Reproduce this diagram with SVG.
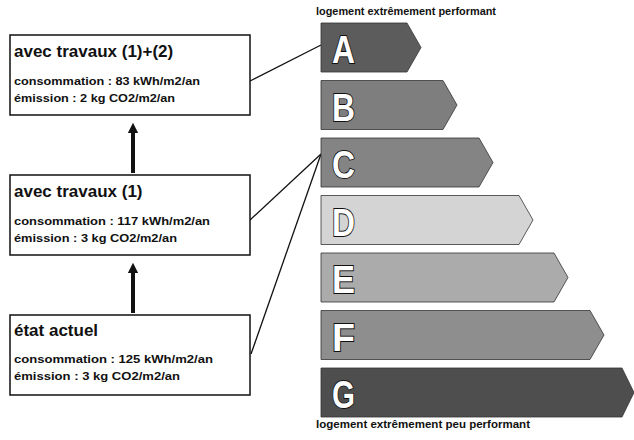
<svg xmlns="http://www.w3.org/2000/svg" width="634" height="440" viewBox="0 0 634 440">
<style>
.box{fill:#fff;stroke:#111;stroke-width:1.5}
.title{font-family:"Liberation Sans",Arial,sans-serif;font-weight:bold;font-size:17px;fill:#111}
.sub{font-family:"Liberation Sans",Arial,sans-serif;font-weight:bold;font-size:11px;fill:#111}
.cap{font-family:"Liberation Sans",Arial,sans-serif;font-weight:bold;font-size:10px;fill:#111}
.letter{font-family:"Liberation Sans",Arial,sans-serif;font-weight:bold;font-size:38px;fill:#fff;stroke:#111;stroke-width:1.8;paint-order:stroke}
.bar{stroke:#333;stroke-width:0.8}
.conn{stroke:#111;stroke-width:1.3;fill:none}
.up{stroke:#111;stroke-width:4;fill:none}
</style>
<defs>
<marker id="head" viewBox="0 0 10 10" refX="5" refY="5" markerWidth="2.6" markerHeight="3" orient="auto">
<path d="M0,0 L10,5 L0,10 z" fill="#111"/>
</marker>
</defs>

<g id="connectors">
<line class="conn" x1="250" y1="81" x2="321" y2="45"/>
<line class="conn" x1="250" y1="220" x2="321" y2="154"/>
<line class="conn" x1="251" y1="354" x2="321" y2="154"/>
<line class="up" x1="133" y1="173" x2="133" y2="128" marker-end="url(#head)"/>
<line class="up" x1="133" y1="313" x2="133" y2="268" marker-end="url(#head)"/>
</g>

<g id="box-travaux-1-2">
<rect class="box" x="10" y="35" width="240" height="80"/>
<text class="title" x="14" y="57">avec travaux (1)+(2)</text>
<text class="sub" x="14" y="85" textLength="186" lengthAdjust="spacingAndGlyphs">consommation : 83 kWh/m2/an</text>
<text class="sub" x="14" y="102" textLength="161" lengthAdjust="spacingAndGlyphs">émission : 2 kg CO2/m2/an</text>
</g>

<g id="box-travaux-1">
<rect class="box" x="10" y="175" width="240" height="80"/>
<text class="title" x="14" y="197">avec travaux (1)</text>
<text class="sub" x="14" y="225" textLength="196" lengthAdjust="spacingAndGlyphs">consommation : 117 kWh/m2/an</text>
<text class="sub" x="14" y="242" textLength="163" lengthAdjust="spacingAndGlyphs">émission : 3 kg CO2/m2/an</text>
</g>

<g id="box-etat-actuel">
<rect class="box" x="10" y="315" width="240" height="80"/>
<text class="title" x="14" y="336">état actuel</text>
<text class="sub" x="14" y="363" textLength="199" lengthAdjust="spacingAndGlyphs">consommation : 125 kWh/m2/an</text>
<text class="sub" x="14" y="380" textLength="166" lengthAdjust="spacingAndGlyphs">émission : 3 kg CO2/m2/an</text>
</g>

<g id="label-top">
<text class="cap" x="316" y="15" textLength="180" lengthAdjust="spacingAndGlyphs">logement extrêmement performant</text>
</g>

<g id="bar-A">
<path class="bar" fill="#5c5c5c" d="M321,23 H407 L421,47.5 L407,72 H321 Z"/>
<text class="letter" x="332" y="63" textLength="23" lengthAdjust="spacingAndGlyphs">A</text>
</g>
<g id="bar-B">
<path class="bar" fill="#7e7e7e" d="M321,80.5 H443 L457,105 L443,129.5 H321 Z"/>
<text class="letter" x="332" y="120.5" textLength="23" lengthAdjust="spacingAndGlyphs">B</text>
</g>
<g id="bar-C">
<path class="bar" fill="#848484" d="M321,138 H479 L493,162.5 L479,187 H321 Z"/>
<text class="letter" x="332" y="178" textLength="23" lengthAdjust="spacingAndGlyphs">C</text>
</g>
<g id="bar-D">
<path class="bar" fill="#d4d4d4" stroke="#bbb" d="M321,195.5 H519 L533,220 L519,244.5 H321 Z"/>
<text class="letter" x="332" y="235.5" textLength="23" lengthAdjust="spacingAndGlyphs">D</text>
</g>
<g id="bar-E">
<path class="bar" fill="#ababab" d="M321,253 H554 L568,277.5 L554,302 H321 Z"/>
<text class="letter" x="332" y="293" textLength="23" lengthAdjust="spacingAndGlyphs">E</text>
</g>
<g id="bar-F">
<path class="bar" fill="#8e8e8e" d="M321,310.5 H590 L604,335 L590,359.5 H321 Z"/>
<text class="letter" x="332" y="350.5" textLength="23" lengthAdjust="spacingAndGlyphs">F</text>
</g>
<g id="bar-G">
<path class="bar" fill="#4e4e4e" d="M321,368 H622 L634,392.5 L622,417 H321 Z"/>
<text class="letter" x="332" y="408" textLength="23" lengthAdjust="spacingAndGlyphs">G</text>
</g>

<g id="label-bottom">
<text class="cap" x="316" y="428" textLength="214" lengthAdjust="spacingAndGlyphs">logement extrêmement peu performant</text>
</g>
</svg>
